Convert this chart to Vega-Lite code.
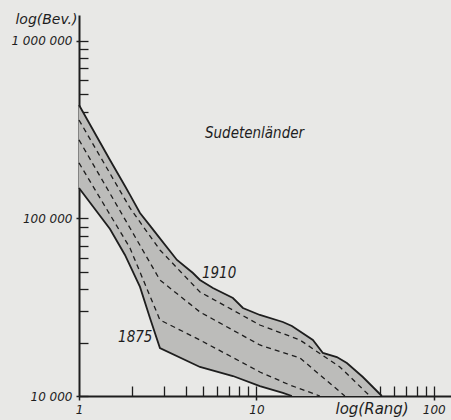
{
  "$schema": "https://vega.github.io/schema/vega-lite/v6.json",
  "width": 372,
  "height": 381,
  "autosize": {"type": "none"},
  "padding": {"left": 79, "top": 15, "right": 0, "bottom": 24},
  "background": "#e8e8e6",
  "config": {
    "view": {"stroke": null},
    "axis": {"labelFont": "DejaVu Sans", "titleFont": "DejaVu Sans", "labelColor": "#1e1e1e", "titleColor": "#1e1e1e", "grid": false, "zindex": 1}
  },
  "datasets": {
    "band": [
      {"rank": 1, "hi": 436000, "lo": 148500},
      {"rank": 1.495, "hi": 213600, "lo": 87300},
      {"rank": 1.816, "hi": 152500, "lo": 62300},
      {"rank": 1.938, "hi": 135700, "lo": 54220},
      {"rank": 2.207, "hi": 107400, "lo": 41140},
      {"rank": 2.512, "hi": 91100, "lo": 27500},
      {"rank": 2.859, "hi": 77250, "lo": 18640},
      {"rank": 3.566, "hi": 58400, "lo": 16800},
      {"rank": 4.388, "hi": 49300, "lo": 15200},
      {"rank": 4.806, "hi": 45030, "lo": 14570},
      {"rank": 5.686, "hi": 40600, "lo": 13920},
      {"rank": 7.374, "hi": 35650, "lo": 12960},
      {"rank": 8.393, "hi": 31320, "lo": 12360},
      {"rank": 10.46, "hi": 28600, "lo": 11380},
      {"rank": 14.1, "hi": 26120, "lo": 10400},
      {"rank": 15.85, "hi": 24800, "lo": 10000},
      {"rank": 20.81, "hi": 20680, "lo": 10000},
      {"rank": 23.7, "hi": 17470, "lo": 10000},
      {"rank": 28.41, "hi": 16580, "lo": 10000},
      {"rank": 32.35, "hi": 15340, "lo": 10000},
      {"rank": 39.81, "hi": 12790, "lo": 10000},
      {"rank": 45.33, "hi": 11240, "lo": 10000},
      {"rank": 50.93, "hi": 10000, "lo": 10000}
    ],
    "lines": [
      {"year": 1910, "rank": 1, "pop": 436000},
      {"year": 1910, "rank": 1.495, "pop": 213600},
      {"year": 1910, "rank": 1.816, "pop": 152500},
      {"year": 1910, "rank": 1.938, "pop": 135700},
      {"year": 1910, "rank": 2.207, "pop": 107400},
      {"year": 1910, "rank": 2.512, "pop": 91100},
      {"year": 1910, "rank": 2.859, "pop": 77250},
      {"year": 1910, "rank": 3.566, "pop": 58400},
      {"year": 1910, "rank": 4.388, "pop": 49300},
      {"year": 1910, "rank": 4.806, "pop": 45030},
      {"year": 1910, "rank": 5.686, "pop": 40600},
      {"year": 1910, "rank": 7.374, "pop": 35650},
      {"year": 1910, "rank": 8.393, "pop": 31320},
      {"year": 1910, "rank": 10.46, "pop": 28600},
      {"year": 1910, "rank": 14.1, "pop": 26120},
      {"year": 1910, "rank": 15.85, "pop": 24800},
      {"year": 1910, "rank": 20.81, "pop": 20680},
      {"year": 1910, "rank": 23.7, "pop": 17470},
      {"year": 1910, "rank": 28.41, "pop": 16580},
      {"year": 1910, "rank": 32.35, "pop": 15340},
      {"year": 1910, "rank": 39.81, "pop": 12790},
      {"year": 1910, "rank": 45.33, "pop": 11240},
      {"year": 1910, "rank": 50.93, "pop": 10000},
      {"year": 1875, "rank": 1, "pop": 148500},
      {"year": 1875, "rank": 1.495, "pop": 87300},
      {"year": 1875, "rank": 1.816, "pop": 62300},
      {"year": 1875, "rank": 2.207, "pop": 41140},
      {"year": 1875, "rank": 2.512, "pop": 27500},
      {"year": 1875, "rank": 2.859, "pop": 18640},
      {"year": 1875, "rank": 4.806, "pop": 14570},
      {"year": 1875, "rank": 7.374, "pop": 12960},
      {"year": 1875, "rank": 10.46, "pop": 11380},
      {"year": 1875, "rank": 14.1, "pop": 10400},
      {"year": 1875, "rank": 15.85, "pop": 10000},
      {"year": 1900, "rank": 1, "pop": 358700},
      {"year": 1900, "rank": 1.938, "pop": 114600},
      {"year": 1900, "rank": 2.859, "pop": 66450},
      {"year": 1900, "rank": 4.806, "pop": 38540},
      {"year": 1900, "rank": 10.46, "pop": 25120},
      {"year": 1900, "rank": 17.59, "pop": 20680},
      {"year": 1900, "rank": 29.54, "pop": 14570},
      {"year": 1900, "rank": 43.6, "pop": 10000},
      {"year": 1890, "rank": 1, "pop": 276900},
      {"year": 1890, "rank": 1.938, "pop": 88400},
      {"year": 1890, "rank": 2.859, "pop": 45030},
      {"year": 1890, "rank": 4.806, "pop": 29730},
      {"year": 1890, "rank": 10.46, "pop": 19380},
      {"year": 1890, "rank": 17.59, "pop": 16380},
      {"year": 1890, "rank": 31.52, "pop": 10000},
      {"year": 1880, "rank": 1, "pop": 205500},
      {"year": 1880, "rank": 1.938, "pop": 68200},
      {"year": 1880, "rank": 2.859, "pop": 26810},
      {"year": 1880, "rank": 4.806, "pop": 20680},
      {"year": 1880, "rank": 10.46, "pop": 13650},
      {"year": 1880, "rank": 15.44, "pop": 11530},
      {"year": 1880, "rank": 22.79, "pop": 10000}
    ],
    "labels": [
      {"text": "Sudetenländer", "rank": 5.128, "pop": 284000},
      {"text": "1910", "rank": 4.93, "pop": 46200},
      {"text": "1875", "rank": 1.66, "pop": 20150}
    ]
  },
  "resolve": {"axis": {"x": "independent", "y": "independent"}},
  "layer": [
    {
      "data": {"name": "band"},
      "mark": {"type": "area", "color": "#bcbcba", "opacity": 1},
      "encoding": {
        "x": {"field": "rank", "type": "quantitative",
          "scale": {"type": "log", "domain": [1, 125], "nice": false},
          "axis": {"orient": "bottom", "values": [1, 10, 100], "tickSize": 4, "tickWidth": 1.5, "tickColor": "#1e1e1e",
            "domainWidth": 2, "domainColor": "#1e1e1e", "labelFontSize": 12, "labelFontStyle": "italic", "labelPadding": 4,
            "labelFlush": false, "labelOverlap": false, "labelBound": false,
            "labelExpr": "datum.value == 1 ? '1' : datum.value == 10 ? '10' : '100'",
            "title": "log(Rang)", "titleFontSize": 15, "titleFontStyle": "italic", "titleFontWeight": "normal",
            "titleAlign": "left", "titleBaseline": "alphabetic", "titleX": 256, "titleY": 17}},
        "y": {"field": "hi", "type": "quantitative",
          "scale": {"type": "log", "domain": [10000, 1400000], "nice": false, "zero": false},
          "axis": {"orient": "left", "values": [10000, 100000, 1000000], "tickSize": 3, "tickWidth": 1.5, "tickColor": "#1e1e1e",
            "domainWidth": 2, "domainColor": "#1e1e1e", "labelFontSize": 12, "labelFontStyle": "italic", "labelPadding": 4,
            "labelOverlap": false, "labelBound": false, "labelFlush": false,
            "labelExpr": "datum.value == 1000000 ? '1 000 000' : datum.value == 100000 ? '100 000' : '10 000'",
            "title": "log(Bev.)", "titleFontSize": 14, "titleFontStyle": "italic", "titleFontWeight": "normal", "titleAngle": 0,
            "titleAlign": "right", "titleBaseline": "alphabetic", "titleX": -2, "titleY": 8}},
        "y2": {"field": "lo"}
      }
    },
    {
      "data": {"name": "lines"},
      "transform": [{"filter": "datum.year == 1875 || datum.year == 1910"}],
      "mark": {"type": "line", "color": "#1e1e1e", "strokeWidth": 1.8},
      "encoding": {
        "x": {"field": "rank", "type": "quantitative", "scale": {"type": "log", "domain": [1, 125], "nice": false},
          "axis": {"orient": "bottom", "values": [2, 3, 4, 5, 6, 7, 8, 9, 10, 20, 30, 40, 50, 60, 70, 80, 90, 100],
            "tickSize": -10, "tickWidth": 1.3, "tickColor": "#1e1e1e", "domain": false, "labels": false, "title": null}},
        "y": {"field": "pop", "type": "quantitative", "scale": {"type": "log", "domain": [10000, 1400000], "nice": false, "zero": false},
          "axis": {"orient": "left", "values": [10000, 20000, 30000, 40000, 50000, 60000, 70000, 80000, 90000, 100000, 200000, 300000, 400000, 500000, 600000, 700000, 800000, 900000, 1000000],
            "tickSize": -9, "tickWidth": 1.3, "tickColor": "#1e1e1e", "domain": false, "labels": false, "title": null}},
        "detail": {"field": "year", "type": "nominal"}
      }
    },
    {
      "data": {"name": "lines"},
      "transform": [{"filter": "datum.year != 1875 && datum.year != 1910"}],
      "mark": {"type": "line", "color": "#1e1e1e", "strokeWidth": 1.3, "strokeDash": [5, 4]},
      "encoding": {
        "x": {"field": "rank", "type": "quantitative", "scale": {"type": "log", "domain": [1, 125], "nice": false}, "axis": null},
        "y": {"field": "pop", "type": "quantitative", "scale": {"type": "log", "domain": [10000, 1400000], "nice": false, "zero": false}, "axis": null},
        "detail": {"field": "year", "type": "nominal"}
      }
    },
    {
      "data": {"name": "labels"},
      "mark": {"type": "text", "align": "left", "baseline": "alphabetic", "fontStyle": "italic", "font": "DejaVu Sans Condensed, DejaVu Sans, sans-serif", "color": "#1e1e1e"},
      "encoding": {
        "x": {"field": "rank", "type": "quantitative", "scale": {"type": "log", "domain": [1, 125], "nice": false}, "axis": null},
        "y": {"field": "pop", "type": "quantitative", "scale": {"type": "log", "domain": [10000, 1400000], "nice": false, "zero": false}, "axis": null},
        "text": {"field": "text"},
        "size": {"condition": {"test": "datum.text == 'Sudetenländer'", "value": 15}, "value": 15}
      }
    }
  ]
}
